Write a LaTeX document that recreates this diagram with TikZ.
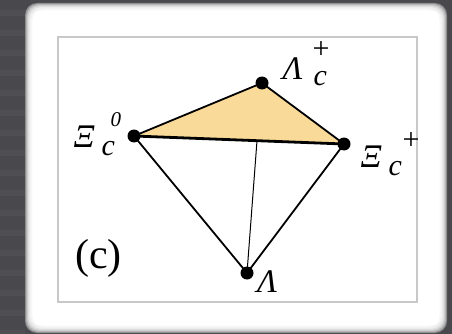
\documentclass[tikz,border=0pt]{standalone}
\usepackage{fontspec}
\setmainfont{Liberation Serif}
\definecolor{bgdark}{RGB}{72,72,77}
\definecolor{trifill}{RGB}{250,218,152}
\definecolor{boxline}{RGB}{200,200,200}
\newcommand{\bigsz}{\fontsize{33pt}{40pt}\selectfont}
\newcommand{\smsz}{\fontsize{30pt}{36pt}\selectfont}
\newcommand{\zrsz}{\fontsize{21pt}{25pt}\selectfont}
\tikzset{
  dot/.style={circle,fill=black,inner sep=0pt,minimum size=13pt},
  edge/.style={line width=1.8pt,line cap=round},
  lbl/.style={inner sep=0pt,anchor=base west,font=\bigsz\itshape},
  paneltxt/.style={inner sep=0pt,anchor=base west,font=\fontsize{42pt}{50pt}\selectfont}
}
\begin{document}
\begin{tikzpicture}[x=1pt,y=-1pt]
\useasboundingbox (0,0) rectangle (452,334);
% background
\fill[bgdark] (0,0) rectangle (452,334);
\foreach \yy in {10,30,...,330} {\fill[black!60,opacity=0.25] (0,\yy) rectangle (25,\yy+6);}
% card with soft edge
\foreach \i/\g in {0/45,1/30,2/20,3/13,4/8,5/5,6/3,7/1} {
  \fill[black!\g,rounded corners=12pt] (25+\i,3+\i) rectangle (447-\i,333-\i);
}
\fill[white,rounded corners=6pt] (33,11) rectangle (439,325);
% inner frame
\draw[boxline,line width=1.1pt] (58,37) rectangle (417,302);
% vertices
\coordinate (LcP) at (262,83);
\coordinate (Xc0) at (134,136);
\coordinate (XcP) at (344,144);
\coordinate (Lam) at (247,273);
\coordinate (Mid) at (257,140.7);
\fill[trifill] (Xc0) -- (LcP) -- (XcP) -- cycle;
\draw[edge] (Xc0) -- (LcP) -- (XcP);
\draw[edge] (Xc0) -- (Lam) -- (XcP);
\draw[line width=2.8pt] (Xc0) -- (XcP);
\draw[line width=1pt] (Mid) -- (Lam);
\node[dot] (dLcP) at (LcP) {};
\node[dot] (dXc0) at (Xc0) {};
\node[dot] (dXcP) at (XcP) {};
\node[dot] (dLam) at (Lam) {};
% labels
\node[lbl] (tLcP) at (282,80) {\rlap{Λ}\rlap{\hspace{31pt}\raisebox{-6pt}{\smsz c}}\rlap{\hspace{30pt}\raisebox{21pt}{\smsz\upshape +}}\hspace{46pt}};
\node[lbl] (tXc0) at (73,147) {\rlap{Ξ}\rlap{\hspace{28pt}\raisebox{-8pt}{\smsz c}}\rlap{\hspace{37pt}\raisebox{21pt}{\zrsz 0}}\hspace{49pt}};
\node[lbl] (tXcP) at (360,167) {\rlap{Ξ}\rlap{\hspace{28pt}\raisebox{-8pt}{\smsz c}}\rlap{\hspace{42pt}\raisebox{18pt}{\smsz\upshape +}}\hspace{56pt}};
\node[lbl] (tLam) at (257,292) {Λ};
\node[paneltxt] (panel) at (75,268) {(c)};
\end{tikzpicture}
\end{document}
